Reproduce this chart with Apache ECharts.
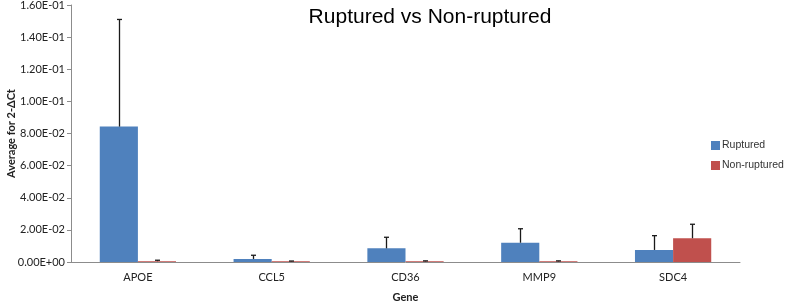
<!DOCTYPE html>
<html><head><meta charset="utf-8">
<script src="https://cdn.jsdelivr.net/npm/echarts@6/dist/echarts.min.js"></script>
<style>html,body{margin:0;padding:0;background:#fff}#c{width:809px;height:303px}</style>
</head><body><div id="c"></div>
<script>
const categories = ['APOE', 'CCL5', 'CD36', 'MMP9', 'SDC4'];
const ruptured = [0.0843, 0.0019, 0.0085, 0.0120, 0.0075];
const rupturedErr = [0.0667, 0.0023, 0.0069, 0.0087, 0.0089];
const nonRuptured = [0.0005, 0.0004, 0.0004, 0.0004, 0.0148];
const nonRupturedErr = [0.0006, 0.0002, 0.0003, 0.0003, 0.0087];
const yTicks = [0, 0.02, 0.04, 0.06, 0.08, 0.10, 0.12, 0.14, 0.16];

function fmt(v) {
  const parts = Number(v).toExponential(2).split('e');
  let e = parseInt(parts[1], 10);
  const s = e < 0 ? '-' : '+';
  e = Math.abs(e);
  return parts[0] + 'E' + s + (e < 10 ? '0' + e : '' + e);
}

const GAP = 0.43;
function errSeries(name, vals, errs, side) {
  return {
    type: 'custom', name: name + ' err', silent: true, z: 5,
    data: vals.map((v, i) => [i, v, v + errs[i]]),
    renderItem: function (params, api) {
      const i = api.value(0);
      const band = api.size([1, 0])[0];
      const bw = band * (1 - GAP) / 2;
      const base = api.coord([i, api.value(1)]);
      const top = api.coord([i, api.value(2)]);
      const x = Math.round(base[0] + side * bw / 2) + 0.5;
      const style = { stroke: '#1a1a1a', lineWidth: 1.3 };
      return { type: 'group', children: [
        { type: 'line', shape: { x1: x, y1: base[1], x2: x, y2: top[1] }, style: style },
        { type: 'line', shape: { x1: x - 2.5, y1: top[1], x2: x + 2.5, y2: top[1] }, style: style }
      ]};
    }
  };
}

const chart = echarts.init(document.getElementById('c'));
chart.setOption({
  animation: false,
  backgroundColor: '#ffffff',
  title: {
    text: 'Ruptured vs Non-ruptured', left: 425, top: 2, textAlign: 'center',
    textStyle: { fontFamily: 'Liberation Sans', fontSize: 21, fontWeight: 'normal', color: '#000' }
  },
  legend: {
    orient: 'vertical', left: 711, top: 140, itemWidth: 9, itemHeight: 9, itemGap: 9,
    padding: 0, icon: 'rect',
    data: ['Ruptured', 'Non-ruptured'],
    textStyle: { fontFamily: 'Liberation Sans', fontSize: 10.5, color: '#333', padding: [0, 0, 0, -3] }
  },
  grid: { left: 71, right: 69, top: 5, bottom: 41, containLabel: false, outerBoundsMode: 'none' },
  xAxis: {
    type: 'category', data: categories,
    name: 'Gene', nameLocation: 'middle', nameGap: 30,
    nameTextStyle: { fontFamily: 'Lato', fontSize: 11, fontWeight: 'bold', color: '#222' },
    axisLine: { lineStyle: { color: '#8c8c8c', width: 1 } },
    axisTick: { show: false },
    axisLabel: { fontFamily: 'Lato', fontSize: 11, color: '#222', margin: 10 }
  },
  yAxis: {
    type: 'value', min: 0, max: 0.16, interval: 0.02,
    name: 'Average for 2-ΔCt', nameLocation: 'middle', nameGap: 54, nameRotate: 90,
    nameMoveOverlap: false,
    nameTextStyle: { fontFamily: 'Lato', fontSize: 11, fontWeight: 'bold', color: '#222' },
    axisLine: { show: true, lineStyle: { color: '#8c8c8c', width: 1 } },
    axisTick: { show: true, length: 4, lineStyle: { color: '#8c8c8c' } },
    splitLine: { show: false },
    axisLabel: { fontFamily: 'Lato', fontSize: 11, color: '#222', margin: 6, formatter: fmt }
  },
  series: [
    { name: 'Ruptured', type: 'bar', data: ruptured, barGap: '0%', barCategoryGap: '43%',
      itemStyle: { color: '#4F81BD' } },
    { name: 'Non-ruptured', type: 'bar', data: nonRuptured, barGap: '0%', barCategoryGap: '43%',
      itemStyle: { color: '#C0504D' } },
    errSeries('Ruptured', ruptured, rupturedErr, -1),
    errSeries('Non-ruptured', nonRuptured, nonRupturedErr, 1)
  ]
});
</script></body></html>
